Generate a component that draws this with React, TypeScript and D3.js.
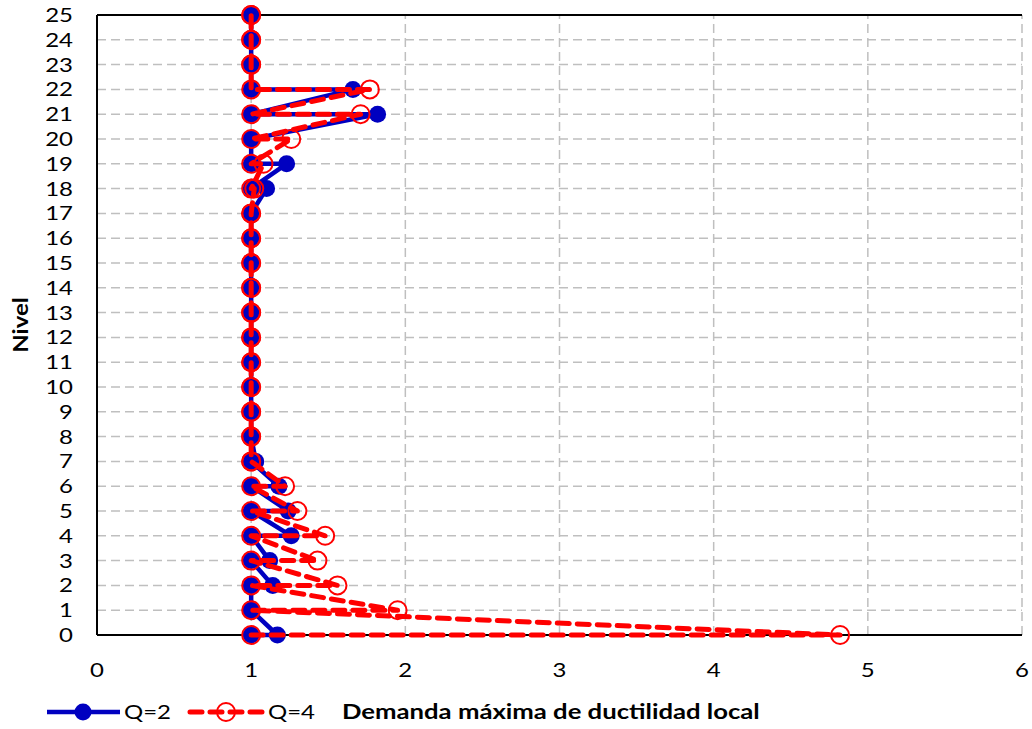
import React from "react";
import * as d3 from "d3";

const levels = [0, 1, 2, 3, 4, 5, 6, 7, 8, 9, 10, 11, 12, 13, 14, 15, 16, 17, 18, 19, 20, 21, 22, 23, 24, 25];
// each level has two points, drawn in order (first, second)
const q2First = [1, 1, 1, 1, 1, 1, 1, 1, 1, 1, 1, 1, 1, 1, 1, 1, 1, 1, 1.1, 1.23, 1, 1.82, 1.66, 1, 1, 1];
const q2Second = [1.17, 1, 1.14, 1.12, 1.26, 1.24, 1.18, 1.03, 1, 1, 1, 1, 1, 1, 1, 1, 1, 1, 1, 1, 1, 1, 1, 1, 1, 1];
const q4First = [1, 1, 1, 1, 1, 1, 1, 1, 1, 1, 1, 1, 1, 1, 1, 1, 1, 1, 1.02, 1.08, 1.26, 1.71, 1.77, 1, 1, 1];
const q4Second = [4.82, 1.95, 1.56, 1.43, 1.48, 1.3, 1.22, 1, 1, 1, 1, 1, 1, 1, 1, 1, 1, 1, 1, 1, 1, 1, 1, 1, 1, 1];
const xTicks = [0, 1, 2, 3, 4, 5, 6];
const seriesNames = ["Q=2", "Q=4"];
const xTitle = "Demanda máxima de ductilidad local";
const yTitle = "Nivel";

const W = 1032;
const H = 729;
const FONT = "Lato, 'Open Sans', sans-serif";
const BLUE = "#0000C0";
const RED = "#FF0000";
const GRID = "#BFBFBF";
const SX = 1.2; // horizontal stretch of text, as in the reference

function buildPts(first: number[], second: number[]): [number, number][] {
  const pts: [number, number][] = [];
  levels.forEach((lv, i) => {
    pts.push([first[i], lv]);
    pts.push([second[i], lv]);
  });
  return pts;
}

function T(props: {
  x: number;
  y: number;
  anchor?: "start" | "middle" | "end";
  size: number;
  bold?: boolean;
  rotate?: number;
  children: React.ReactNode;
}) {
  const rot = props.rotate ? ` rotate(${props.rotate})` : "";
  return (
    <text
      transform={`translate(${props.x},${props.y})${rot} scale(${SX},1)`}
      dy="0.35em"
      textAnchor={props.anchor || "start"}
      fontSize={props.size}
      fontWeight={props.bold ? "bold" : "normal"}
      fill="#000"
    >
      {props.children}
    </text>
  );
}

export default function App() {
  const x = d3.scaleLinear().domain([0, 6]).range([97, 1022]);
  const y = d3.scaleLinear().domain([0, 25]).range([635, 15]);
  const line = d3
    .line<[number, number]>()
    .x((d) => x(d[0]))
    .y((d) => y(d[1]));
  const q2 = buildPts(q2First, q2Second);
  const q4 = buildPts(q4First, q4Second);

  return (
    <svg
      width={W}
      height={H}
      style={{ position: "absolute", left: 0, top: 0, background: "#fff" }}
      fontFamily={FONT}
    >
      <rect x={0} y={0} width={W} height={H} fill="#fff" />
      {/* grid */}
      {levels
        .filter((l) => l > 0 && l < 25)
        .map((l) => (
          <line
            key={"h" + l}
            x1={x(0)}
            x2={x(6)}
            y1={y(l)}
            y2={y(l)}
            stroke={GRID}
            strokeWidth={1.5}
            strokeDasharray="9,5"
          />
        ))}
      {xTicks
        .filter((t) => t > 0)
        .map((t) => (
          <line
            key={"v" + t}
            x1={x(t)}
            x2={x(t)}
            y1={y(0)}
            y2={y(25)}
            stroke={GRID}
            strokeWidth={1.5}
            strokeDasharray="9,5"
          />
        ))}
      {/* axes */}
      <line x1={x(0)} x2={x(0)} y1={y(0)} y2={y(25)} stroke="#000" strokeWidth={2} />
      <line x1={x(0)} x2={x(6)} y1={y(0)} y2={y(0)} stroke="#000" strokeWidth={2} />
      <line x1={x(0)} x2={x(6)} y1={y(25)} y2={y(25)} stroke="#000" strokeWidth={2} />

      {/* tick labels */}
      {levels.map((l) => (
        <T key={"yl" + l} x={73} y={y(l)} anchor="end" size={20}>
          {l}
        </T>
      ))}
      {xTicks.map((t) => (
        <T key={"xl" + t} x={x(t)} y={670} anchor="middle" size={20}>
          {t}
        </T>
      ))}
      <T x={21} y={y(12.5)} anchor="middle" size={20} bold rotate={-90}>
        {yTitle}
      </T>

      {/* Q=2 series */}
      <path d={line(q2) || ""} fill="none" stroke={BLUE} strokeWidth={4.5} strokeLinejoin="round" />
      {q2.map((p, i) => (
        <circle key={"b" + i} cx={x(p[0])} cy={y(p[1])} r={8.5} fill={BLUE} />
      ))}
      {/* Q=4 series */}
      <path
        d={line(q4) || ""}
        fill="none"
        stroke={RED}
        strokeWidth={5}
        strokeDasharray="12,8"
        strokeLinecap="round"
        strokeLinejoin="round"
      />
      {q4.map((p, i) => (
        <circle key={"r" + i} cx={x(p[0])} cy={y(p[1])} r={9} fill="none" stroke={RED} strokeWidth={2} />
      ))}

      {/* legend */}
      <line x1={47} x2={120} y1={712} y2={712} stroke={BLUE} strokeWidth={4.5} />
      <circle cx={83} cy={712} r={8.5} fill={BLUE} />
      <T x={124} y={712} size={20}>
        {seriesNames[0]}
      </T>
      <line
        x1={190}
        x2={262}
        y1={712}
        y2={712}
        stroke={RED}
        strokeWidth={5}
        strokeDasharray="12,8"
        strokeLinecap="round"
      />
      <circle cx={226} cy={712} r={9} fill="none" stroke={RED} strokeWidth={2} />
      <T x={268} y={712} size={20}>
        {seriesNames[1]}
      </T>
      <T x={342} y={712} size={21.4} bold>
        {xTitle}
      </T>
    </svg>
  );
}
